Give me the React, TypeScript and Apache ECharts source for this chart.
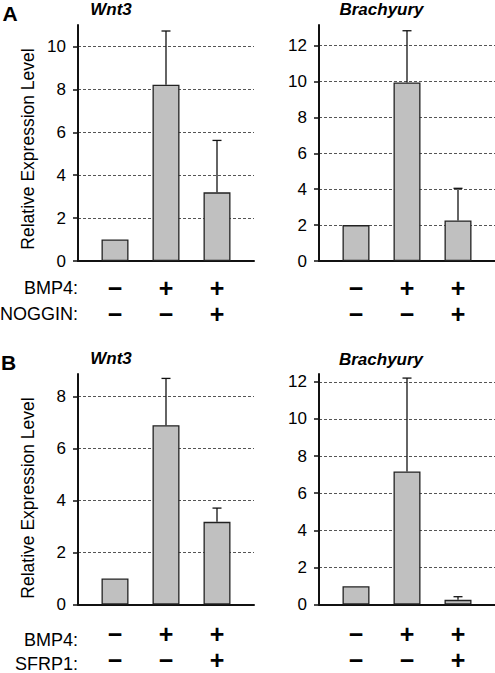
import React, { useEffect, useRef } from "react";
import * as echarts from "echarts";

// ---- Data ----
const conditions = ["Control", "BMP4", "BMP4 + inhibitor"];
const bmp4Signs = ["\u2212", "+", "+"];
const nogginSigns = ["\u2212", "\u2212", "+"];
const sfrp1Signs = ["\u2212", "\u2212", "+"];

const wnt3NogginMeans = [1.0, 8.22, 3.2];
const wnt3NogginErr = [0, 2.5, 2.42];
const brachyNogginMeans = [2.0, 9.95, 2.26];
const brachyNogginErr = [0, 2.88, 1.79];

const wnt3Sfrp1Means = [1.0, 6.9, 3.18];
const wnt3Sfrp1Err = [0, 1.8, 0.53];
const brachySfrp1Means = [0.98, 7.17, 0.25];
const brachySfrp1Err = [0, 5.03, 0.17];

const ticksWnt3A = [0, 2, 4, 6, 8, 10];
const ticksBrachyA = [0, 2, 4, 6, 8, 10, 12];
const ticksWnt3B = [0, 2, 4, 6, 8];
const ticksBrachyB = [0, 2, 4, 6, 8, 10, 12];

const yMaxWnt3A = 11;
const yMaxBrachyA = 13.15;
const yMaxWnt3B = 8.87;
const yMaxBrachyB = 12.42;

const panelTitles = ["Wnt3", "Brachyury"];
const panelLetters = ["A", "B"];
const rowLabelsA = ["BMP4:", "NOGGIN:"];
const rowLabelsB = ["BMP4:", "SFRP1:"];
const yAxisTitle = "Relative Expression Level";

const FONT = "'Liberation Sans', Arial, Helvetica, sans-serif";

export default function App() {
  const ref = useRef<HTMLDivElement>(null);

  useEffect(() => {
    document.body.style.margin = "0";
    if (!ref.current) return;
    const chart = echarts.init(ref.current, undefined, { renderer: "svg" });

    const gridW = 176;
    const pxPerCat = 51;
    const half = gridW / 2 / pxPerCat;
    const xMin = 2 - half;
    const xMax = 2 + half;

    const panels = [
      { means: wnt3NogginMeans, err: wnt3NogginErr, ticks: ticksWnt3A, max: yMaxWnt3A, row2: nogginSigns, left: 78, top: 25, margin: 13.5 },
      { means: brachyNogginMeans, err: brachyNogginErr, ticks: ticksBrachyA, max: yMaxBrachyA, row2: nogginSigns, left: 319, top: 25, margin: 13.5 },
      { means: wnt3Sfrp1Means, err: wnt3Sfrp1Err, ticks: ticksWnt3B, max: yMaxWnt3B, row2: sfrp1Signs, left: 78, top: 374, margin: 16.5 },
      { means: brachySfrp1Means, err: brachySfrp1Err, ticks: ticksBrachyB, max: yMaxBrachyB, row2: sfrp1Signs, left: 319, top: 374, margin: 16.5 },
    ];

    const grid = panels.map((p) => ({ left: p.left, top: p.top, width: gridW, height: 236, containLabel: false }));

    const xAxis = panels.map((p, i) => ({
      type: "value",
      gridIndex: i,
      min: xMin,
      max: xMax,
      axisLine: { show: true, onZero: false, lineStyle: { color: "#111", width: 2 } },
      axisTick: { show: false },
      splitLine: { show: false },
      axisLabel: {
        customValues: conditions.map((_, k) => k + 1),
        formatter: (v: number) => {
          const k = Math.round(v) - 1;
          return `${bmp4Signs[k]}\n${p.row2[k]}`;
        },
        margin: p.margin,
        fontSize: 25,
        fontWeight: "bold",
        lineHeight: 26,
        color: "#000",
        fontFamily: FONT,
      },
    }));

    const yAxis = panels.map((p, i) => ({
      type: "value",
      gridIndex: i,
      min: 0,
      max: p.max,
      interval: 2,
      axisLine: { show: true, onZero: false, lineStyle: { color: "#111", width: 2 } },
      axisTick: { show: true, length: 5, customValues: p.ticks, lineStyle: { color: "#111", width: 1.5 } },
      axisLabel: {
        customValues: p.ticks,
        margin: 12,
        fontSize: 17,
        color: "#000",
        fontFamily: FONT,
      },
      splitLine: {
        show: true,
        showMinLine: false,
        lineStyle: { color: "#555", width: 1, type: [3, 2] },
      },
    }));

    const series: any[] = [];
    panels.forEach((p, i) => {
      series.push({
        type: "bar",
        xAxisIndex: i,
        yAxisIndex: i,
        barWidth: 27,
        data: p.means.map((v, k) => [k + 1, v]),
        itemStyle: { color: "#c0c0c0", borderColor: "#222", borderWidth: 1.3 },
        z: 2,
      });
      series.push({
        type: "custom",
        xAxisIndex: i,
        yAxisIndex: i,
        z: 3,
        encode: { x: 0, y: [1, 2] },
        data: p.means
          .map((v, k) => [k + 1, v, v + p.err[k], p.err[k]])
          .filter((d) => d[3] > 0),
        renderItem: (_params: any, api: any) => {
          const x = api.value(0);
          const lo = api.coord([x, api.value(1)]);
          const hi = api.coord([x, api.value(2)]);
          const st = { stroke: "#111", lineWidth: 1.3 };
          return {
            type: "group",
            children: [
              { type: "line", shape: { x1: lo[0], y1: lo[1], x2: hi[0], y2: hi[1] }, style: st },
              { type: "line", shape: { x1: hi[0] - 4.5, y1: hi[1], x2: hi[0] + 4.5, y2: hi[1] }, style: st },
            ],
          };
        },
      });
    });

    const textEl = (text: string, x: number, y: number, extra: any = {}, rot = 0) => ({
      type: "text",
      x,
      y,
      rotation: rot,
      style: {
        text,
        fontFamily: FONT,
        fontSize: 18,
        fill: "#000",
        align: "center",
        verticalAlign: "middle",
        ...extra,
      },
    });

    const titleStyle = { fontSize: 17, fontWeight: "bold", fontStyle: "italic" };

    const graphic = [
      textEl(panelLetters[0], 10, 13, { fontSize: 21, fontWeight: "bold" }),
      textEl(panelLetters[1], 8.5, 362, { fontSize: 21, fontWeight: "bold" }),
      textEl(panelTitles[0], 111, 9, titleStyle),
      textEl(panelTitles[1], 381.5, 9.5, titleStyle),
      textEl(panelTitles[0], 111, 358.5, titleStyle),
      textEl(panelTitles[1], 381, 359, titleStyle),
      textEl(yAxisTitle, 28, 149, { fontSize: 17.5 }, Math.PI / 2),
      textEl(yAxisTitle, 28, 498, { fontSize: 17.5 }, Math.PI / 2),
      textEl(rowLabelsA[0], 78, 287.5, { align: "right" }),
      textEl(rowLabelsA[1], 78, 313.5, { align: "right" }),
      textEl(rowLabelsB[0], 78, 639.5, { align: "right" }),
      textEl(rowLabelsB[1], 78, 663.5, { align: "right" }),
    ];

    chart.setOption({
      animation: false,
      backgroundColor: "#fff",
      textStyle: { fontFamily: FONT },
      grid,
      xAxis,
      yAxis,
      series,
      graphic,
    });

    return () => chart.dispose();
  }, []);

  return <div ref={ref} style={{ width: 495, height: 673 }} />;
}
